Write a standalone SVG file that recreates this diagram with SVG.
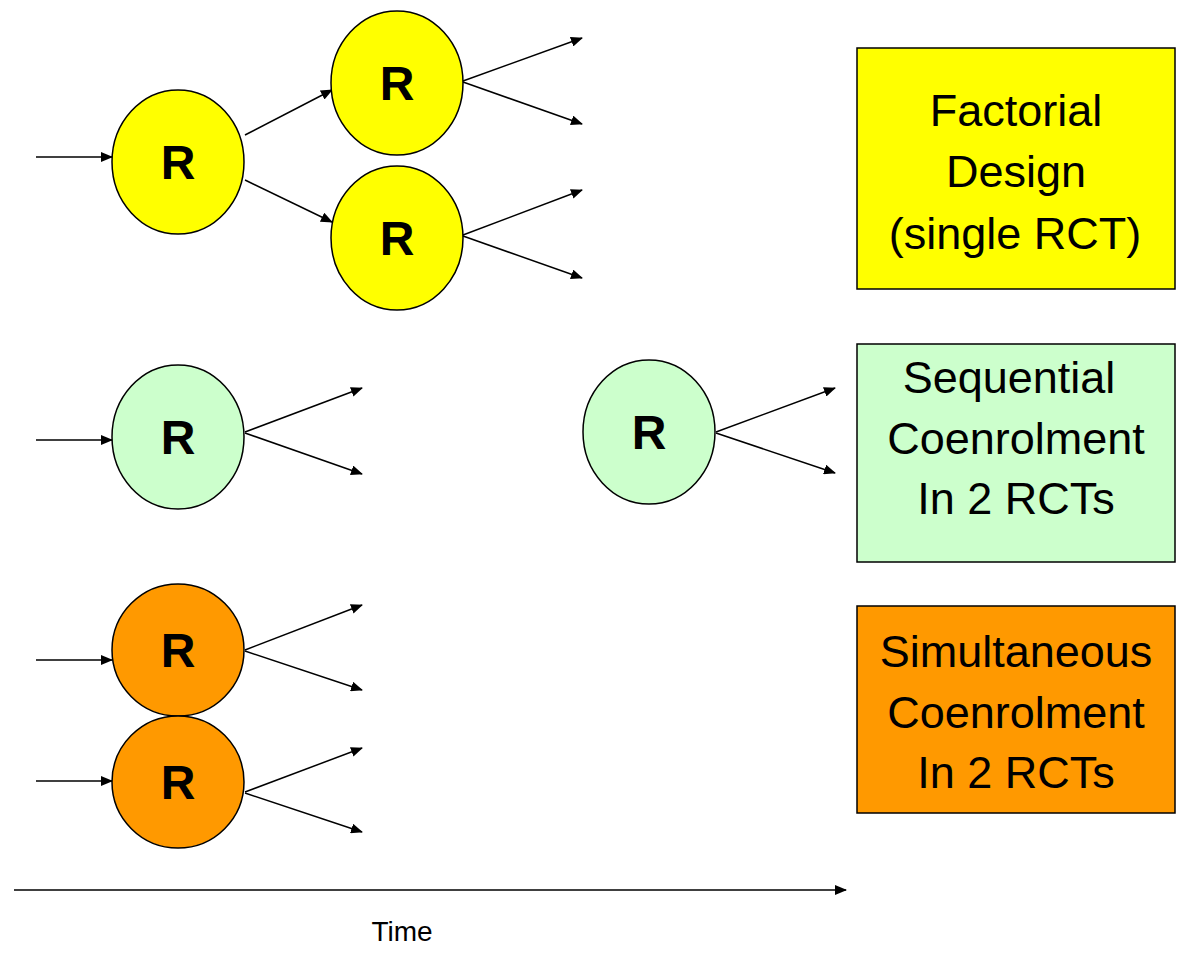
<svg xmlns="http://www.w3.org/2000/svg" width="1200" height="972" viewBox="0 0 1200 972">
<style>
.c{stroke:#000;stroke-width:1.5}
.y{fill:#FFFF00}.g{fill:#CCFFCC}.o{fill:#FF9900}
.r{font-family:"Liberation Sans",Arial,sans-serif;font-weight:bold;font-size:48px;text-anchor:middle;fill:#000}
.b{stroke:#000;stroke-width:1.5}
.t{font-family:"Liberation Sans",Arial,sans-serif;font-size:45px;text-anchor:middle;fill:#000}
.a{stroke:#000;stroke-width:1.5;fill:none;marker-end:url(#ah)}
.tm{font-family:"Liberation Sans",Arial,sans-serif;font-size:28px;text-anchor:middle;fill:#000}
</style>
<defs>
<marker id="ah" markerUnits="userSpaceOnUse" markerWidth="12" markerHeight="10" refX="11" refY="5" orient="auto">
<path d="M0,0 L12,5 L0,10 Z" fill="#000"/>
</marker>
</defs>
<rect width="1200" height="972" fill="#fff"/>
<g id="connectors">
<line class="a" x1="36" y1="157" x2="112" y2="157"/>
<line class="a" x1="245" y1="135" x2="332" y2="90"/>
<line class="a" x1="245" y1="180" x2="332" y2="222"/>
<line class="a" x1="463" y1="81" x2="582" y2="38"/>
<line class="a" x1="463" y1="82" x2="582" y2="124"/>
<line class="a" x1="463" y1="235" x2="582" y2="190"/>
<line class="a" x1="463" y1="236" x2="582" y2="278"/>
<line class="a" x1="36" y1="440" x2="112" y2="440"/>
<line class="a" x1="245" y1="432" x2="362" y2="388"/>
<line class="a" x1="245" y1="433" x2="362" y2="474"/>
<line class="a" x1="716" y1="432" x2="835" y2="388"/>
<line class="a" x1="716" y1="433" x2="835" y2="473"/>
<line class="a" x1="36" y1="660" x2="112" y2="660"/>
<line class="a" x1="245" y1="650" x2="362" y2="605"/>
<line class="a" x1="245" y1="651" x2="362" y2="690"/>
<line class="a" x1="36" y1="781" x2="112" y2="781"/>
<line class="a" x1="245" y1="792" x2="362" y2="748"/>
<line class="a" x1="245" y1="793" x2="362" y2="832"/>
<line class="a" x1="14" y1="890" x2="846" y2="890"/>
</g>
<g id="r1"><ellipse class="c y" cx="178" cy="162" rx="66" ry="72"/><text class="r" x="178" y="179">R</text></g>
<g id="r2"><ellipse class="c y" cx="397" cy="83" rx="66" ry="72"/><text class="r" x="397" y="100">R</text></g>
<g id="r3"><ellipse class="c y" cx="397" cy="238" rx="66" ry="72"/><text class="r" x="397" y="255">R</text></g>
<g id="box-factorial">
<rect class="b y" x="857" y="48" width="318" height="241"/>
<text class="t" x="1016" y="126">Factorial</text>
<text class="t" x="1016" y="187">Design</text>
<text class="t" x="1015" y="249">(single RCT)</text>
</g>
<g id="g1"><ellipse class="c g" cx="178" cy="437" rx="66" ry="72"/><text class="r" x="178" y="454">R</text></g>
<g id="g2"><ellipse class="c g" cx="649" cy="432" rx="66" ry="72"/><text class="r" x="649" y="449">R</text></g>
<g id="box-sequential">
<rect class="b g" x="857" y="344" width="318" height="218"/>
<text class="t" x="1009" y="393">Sequential</text>
<text class="t" x="1016" y="454">Coenrolment</text>
<text class="t" x="1016" y="514">In 2 RCTs</text>
</g>
<g id="o1"><ellipse class="c o" cx="178" cy="650" rx="66" ry="66"/><text class="r" x="178" y="667">R</text></g>
<g id="o2"><ellipse class="c o" cx="178" cy="782" rx="66" ry="66"/><text class="r" x="178" y="799">R</text></g>
<g id="box-simultaneous">
<rect class="b o" x="857" y="606" width="318" height="207"/>
<text class="t" x="1016" y="667">Simultaneous</text>
<text class="t" x="1016" y="728">Coenrolment</text>
<text class="t" x="1016" y="788">In 2 RCTs</text>
</g>
<g id="time"><text class="tm" x="402" y="941">Time</text></g>
</svg>
